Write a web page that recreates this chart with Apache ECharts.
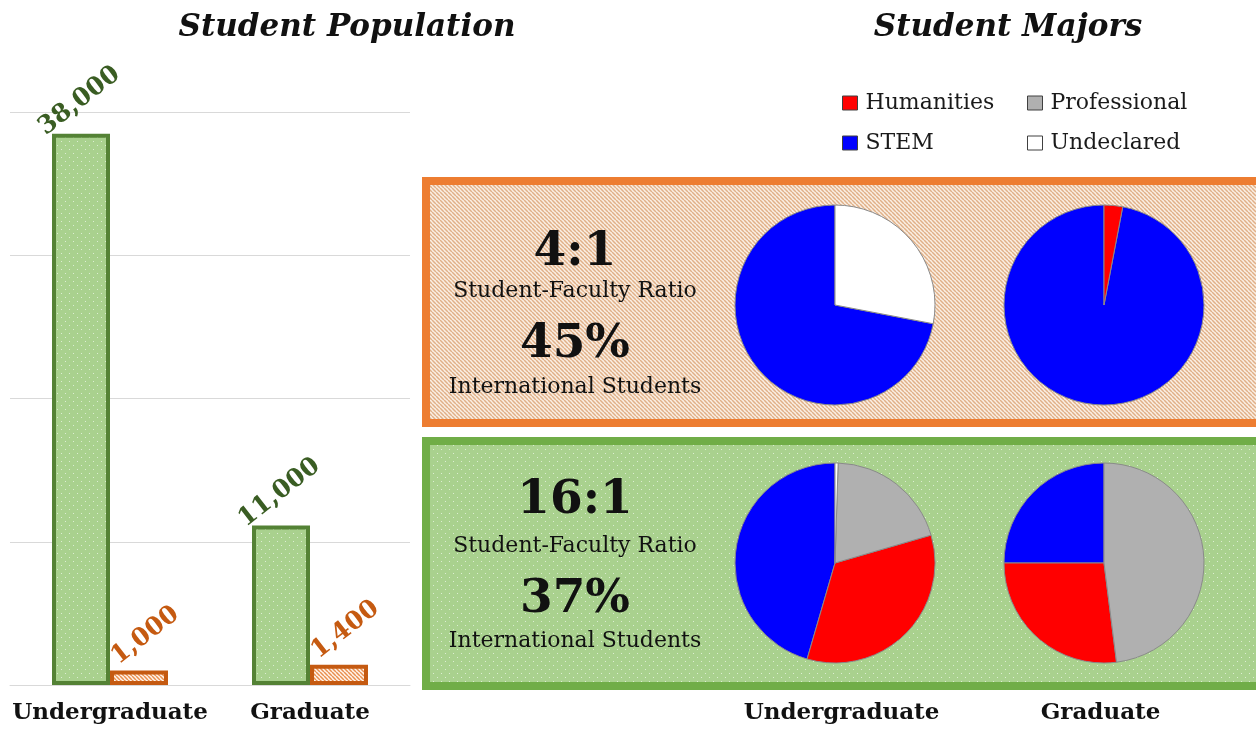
<!DOCTYPE html>
<html><head><meta charset="utf-8">
<script src="https://cdn.jsdelivr.net/npm/echarts@6/dist/echarts.min.js"></script>
<style>html,body{margin:0;padding:0;background:#fff}#c{width:1256px;height:729px}</style>
</head><body><div id="c"></div>
<script>
// ---------- data ----------
const levels = ['Undergraduate', 'Graduate'];
const largeSchoolPop = [38000, 11000];
const smallSchoolPop = [1000, 1400];
const popTicks = [0, 9875, 19750, 29625, 39500];
const majors = ['Humanities', 'Professional', 'STEM', 'Undeclared'];
const smallUGMajors = [0, 0, 72, 28];
const smallGradMajors = [3, 0, 97, 0];
const largeUGMajors = [34, 20, 45.5, 0.5];
const largeGradMajors = [27, 48, 25, 0];
const smallStats = ['4:1', '45%'];
const largeStats = ['16:1', '37%'];
const statCaptions = ['Student-Faculty Ratio', 'International Students'];
const titles = ['Student Population', 'Student Majors'];

// ---------- styles ----------
const SERIF = '"DejaVu Serif", "Liberation Serif", serif';
function makePattern(w, h, draw) {
  const c = document.createElement('canvas'); c.width = w; c.height = h;
  draw(c.getContext('2d'), w, h); return c;
}
function dots(bg, dot) {
  return makePattern(8, 8, (g) => { g.fillStyle = bg; g.fillRect(0, 0, 8, 8);
    g.fillStyle = dot; g.fillRect(1, 1, 1, 1); g.fillRect(5, 5, 1, 1); });
}
function stripes(bg, fg, lw, s) {
  return makePattern(s, s, (g) => { g.fillStyle = bg; g.fillRect(0, 0, s, s);
    g.strokeStyle = fg; g.lineWidth = lw; g.beginPath();
    for (let k = -1; k <= 1; k++) { g.moveTo(k * s, 0); g.lineTo(k * s + s, s); }
    g.stroke(); });
}
const greenFill = { image: dots('#a9d18e', 'rgba(255,255,255,0.6)'), repeat: 'repeat' };
const orangeBarFill = { image: stripes('#fff5ec', '#e98f4f', 1.5, 4), repeat: 'repeat' };
const orangeBoxFill = { image: stripes('#faefe4', '#e0b088', 1.5, 4), repeat: 'repeat' };
const majorColors = { Humanities: '#ff0000', Professional: '#b0b0b0', STEM: '#0000ff', Undeclared: '#ffffff' };
const pieOrder = ['STEM', 'Humanities', 'Professional', 'Undeclared'];

function pieData(vals) {
  return pieOrder.map(n => {
    const v = vals[majors.indexOf(n)];
    return { name: n, value: v, itemStyle: { color: majorColors[n], borderColor: '#8a8a8a', borderWidth: v > 0 ? 1 : 0 } };
  });
}
function pie(vals, center) {
  return { type: 'pie', center: center, radius: 100, startAngle: 90, clockwise: false,
    label: { show: false }, labelLine: { show: false }, silent: true,
    data: pieData(vals) };
}
const fmt = (p) => p.value.toLocaleString('en-US');
const labelBase = { show: true, position: 'top', distance: 34, rotate: 38, align: 'center', verticalAlign: 'middle',
  fontFamily: SERIF, fontWeight: 'bold', fontSize: 25, formatter: fmt };
const axisLabelStyle = { fontFamily: SERIF, fontWeight: 'bold', fontSize: 23, color: '#111', margin: 17, interval: 0 };

function txt(text, x, y, size, bold) {
  return { type: 'text', x: x, y: y, z: 10,
    style: { text: text, fill: '#111', font: (bold ? 'bold ' : '') + size + 'px ' + SERIF, textAlign: 'center', textVerticalAlign: 'middle' } };
}
function titleTxt(text, x) {
  return { type: 'text', x: x, y: 28, z: 10,
    style: { text: text, fill: '#111', font: 'italic bold 31px ' + SERIF, textAlign: 'center', textVerticalAlign: 'middle' } };
}
function legend(names, left) {
  return { data: names, left: left, top: 92, padding: 0, orient: 'vertical', icon: 'rect', itemWidth: 15, itemHeight: 14, itemGap: 18,
    selectedMode: false, itemStyle: { borderColor: '#404040', borderWidth: 1 },
    textStyle: { fontFamily: SERIF, fontSize: 22, color: '#1a1a1a', padding: [0, 0, 0, 3] } };
}

const chart = echarts.init(document.getElementById('c'));
chart.setOption({
  animation: false,
  backgroundColor: '#ffffff',
  grid: [
    { left: 10, width: 400, top: 112, bottom: 44 },
    { left: 712, width: 518, top: 440, bottom: 44 }
  ],
  xAxis: [
    { type: 'category', gridIndex: 0, data: levels, axisTick: { show: false },
      axisLine: { lineStyle: { color: '#d9d9d9' } }, axisLabel: axisLabelStyle },
    { type: 'category', gridIndex: 1, data: levels, axisTick: { show: false },
      axisLine: { show: false }, axisLabel: axisLabelStyle }
  ],
  yAxis: [
    { type: 'value', gridIndex: 0, min: popTicks[0], max: popTicks[popTicks.length - 1], interval: popTicks[1] - popTicks[0],
      axisLabel: { show: false }, axisLine: { show: false }, axisTick: { show: false },
      splitLine: { lineStyle: { color: '#d9d9d9', width: 1 } } },
    { type: 'value', gridIndex: 1, show: false }
  ],
  legend: [legend(['Humanities', 'STEM'], 842), legend(['Professional', 'Undeclared'], 1027)],
  graphic: [
    { type: 'rect', z: 0, shape: { x: 426, y: 181, width: 840, height: 242 },
      style: { fill: orangeBoxFill, stroke: '#ed7d31', lineWidth: 8 } },
    { type: 'rect', z: 0, shape: { x: 426, y: 441, width: 840, height: 245 },
      style: { fill: greenFill, stroke: '#70ad47', lineWidth: 8 } },
    titleTxt(titles[0], 347),
    titleTxt(titles[1], 1008),
    txt(smallStats[0], 575, 253, 47, true),
    txt(statCaptions[0], 575, 291, 22, false),
    txt(smallStats[1], 575, 345, 47, true),
    txt(statCaptions[1], 575, 387, 22, false),
    txt(largeStats[0], 575, 501, 47, true),
    txt(statCaptions[0], 575, 546, 22, false),
    txt(largeStats[1], 575, 600, 47, true),
    txt(statCaptions[1], 575, 641, 22, false)
  ],
  series: [
    { type: 'bar', xAxisIndex: 0, yAxisIndex: 0, name: 'Large', data: largeSchoolPop, barWidth: 58, barGap: '0%',
      itemStyle: { color: greenFill, borderColor: '#548235', borderWidth: 4 },
      label: Object.assign({}, labelBase, { color: '#3a5d23', offset: [-2, 0] }) },
    { type: 'bar', xAxisIndex: 0, yAxisIndex: 0, name: 'Small', data: smallSchoolPop, barWidth: 58, barGap: '0%',
      itemStyle: { color: orangeBarFill, borderColor: '#c55a11', borderWidth: 4 },
      label: Object.assign({}, labelBase, { color: '#c55a11', distance: 30, offset: [8, 0] }) },
    pie(smallUGMajors, [835, 305]),
    pie(smallGradMajors, [1104, 305]),
    pie(largeUGMajors, [835, 563]),
    pie(largeGradMajors, [1104, 563])
  ]
});
</script></body></html>
